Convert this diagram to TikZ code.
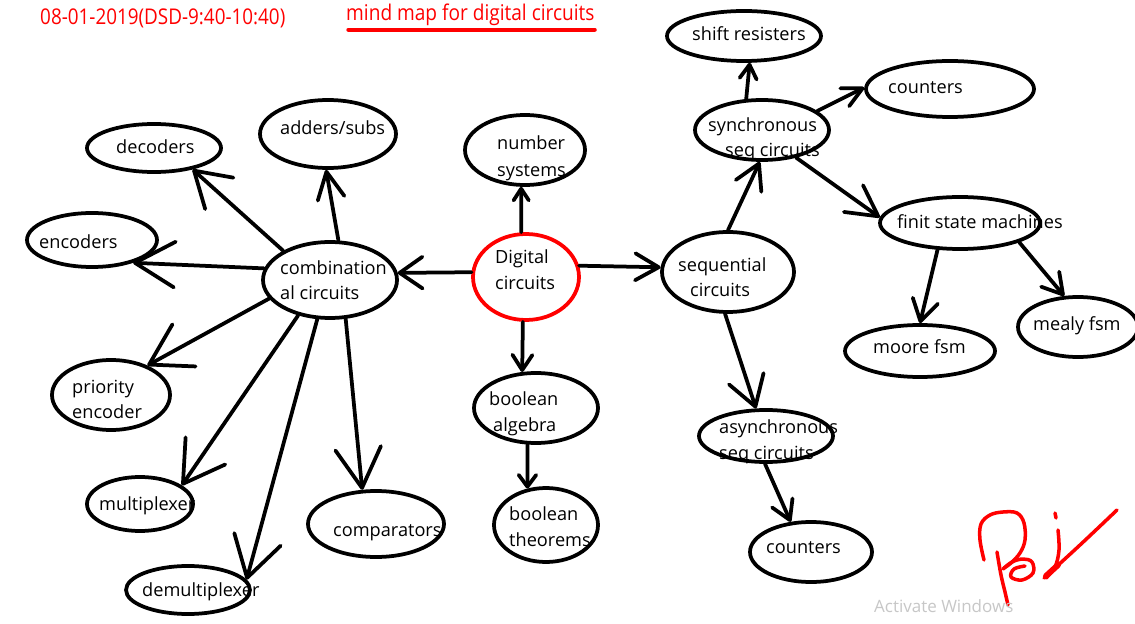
\documentclass[tikz,border=0pt]{standalone}
\usepackage{fontspec}
\setmainfont{Open Sans}
\usetikzlibrary{shapes.geometric,arrows.meta}
\tikzset{
  el/.style 2 args={draw, ellipse, line width=3.2pt, inner sep=0pt, minimum width=#1*0.06cm, minimum height=#2*0.06cm},
  lbl/.style={font=\fontsize{15.5}{18}\selectfont, anchor=west, inner sep=0pt, text height=1.5ex, text depth=0.25ex, yshift=-2.6pt},
  ah/.style 2 args={line width=3.2pt, line cap=round, line join=round, -{Straight Barb[length=#1pt, width=#2pt, round]}},
  sig/.style={red, line width=3pt, line cap=round, line join=round},
}
\begin{document}
\begin{tikzpicture}[x=0.03cm, y=-0.03cm]
\useasboundingbox[fill=white] (0,0) rectangle (1135,624);
% title
\node[anchor=west, inner sep=0pt, text=red] (date) at (40,18) {\scalebox{0.87}[1]{\fontsize{18.5}{22}\selectfont 08-01-2019(DSD-9:40-10:40)}};
\node[anchor=west, inner sep=0pt, text=red] (head) at (346,15) {\scalebox{0.88}[1]{\fontsize{18.5}{22}\selectfont mind map for digital circuits}};
\draw[red, line width=3.4pt, line cap=round] ([xshift=2pt,yshift=-3pt]head.south west) -- ([yshift=-3pt]head.south east);
% ellipses
\node[el={53}{43}, draw=red] (dig) at (526,277) {};
\node[el={60}{35}] (num) at (525,150) {};
\node[el={67}{38}] (comb) at (330,280) {};
\node[el={68}{34}] (add) at (328,134) {};
\node[el={67}{24}] (dec) at (154,148) {};
\node[el={65}{27}] (enc) at (92,240) {};
\node[el={59}{35}] (pri) at (111,395) {};
\node[el={53}{27}] (mux) at (140,504) {};
\node[el={62}{24}] (demux) at (188,590) {};
\node[el={68}{33}] (comp) at (376,524) {};
\node[el={62}{35}] (ba) at (536,408) {};
\node[el={52}{37}] (bt) at (546,525) {};
\node[el={66}{40}] (seq) at (728,272) {};
\node[el={67}{30}] (sync) at (762,130) {};
\node[el={77}{25}] (shift) at (744,36) {};
\node[el={84}{28}] (cntA) at (950,89) {};
\node[el={80}{26}] (fsm) at (960,223) {};
\node[el={75}{26}] (moore) at (920,351) {};
\node[el={60}{30}] (mealy) at (1078,327) {};
\node[el={67}{26}] (async) at (766,436) {};
\node[el={61}{30}] (cntB) at (811,552) {};
% labels
\node[lbl] (tdec) at (116,147) {decoders};
\node[lbl] (tadd) at (280,128) {adders/subs};
\node[lbl] (tenc) at (39,242) {encoders};
\node[lbl] (tcomb1) at (280,268) {combination};
\node[lbl] (tcomb2) at (280,293) {al circuits};
\node[lbl] (tpri1) at (72,387) {priority};
\node[lbl] (tpri2) at (72,412) {encoder};
\node[lbl] (tmux) at (99,504) {multiplexer};
\node[lbl] (tdemux) at (142,590) {demultiplexer};
\node[lbl] (tcomp) at (333,530) {comparators};
\node[lbl] (tnum1) at (497,143) {number};
\node[lbl] (tnum2) at (497,170) {systems};
\node[lbl] (tdig1) at (495,257) {Digital};
\node[lbl] (tdig2) at (495,283) {circuits};
\node[lbl] (tseq1) at (678,265) {sequential};
\node[lbl] (tseq2) at (690,290) {circuits};
\node[lbl] (tsync1) at (708,125) {synchronous};
\node[lbl] (tsync2) at (725,150) {seq circuits};
\node[lbl] (tshift) at (692,34) {shift resisters};
\node[lbl] (tcntA) at (888,87) {counters};
\node[lbl] (tfsm) at (897,222) {finit state machines};
\node[lbl] (tmoore) at (873,347) {moore fsm};
\node[lbl] (tmealy) at (1033,324) {mealy fsm};
\node[lbl] (tba1) at (489,399) {boolean};
\node[lbl] (tba2) at (493,425) {algebra};
\node[lbl] (tbt1) at (509,514) {boolean};
\node[lbl] (tbt2) at (509,540) {theorems};
\node[lbl] (tas1) at (719,427) {asynchronous};
\node[lbl] (tas2) at (719,453) {seq circuits};
\node[lbl] (tcntB) at (766,547) {counters};
% connectors
\draw[ah={10}{13}] (dig.96) -- (num.264);
\draw[ah={19.5}{27}] (dig.175) -- (comb.6);
\draw[ah={20}{23}] (dig.12) -- (seq.176);
\draw[ah={13}{17}] (dig.266) -- (ba.111);
\draw[ah={10}{15}] (ba.257) -- (bt.117);
\draw[ah={23}{23}] (comb.78) -- (add.267);
\draw[ah={29}{36}] (comb.148) -- (dec.331);
\draw[ah={34}{39}] (comb.170) -- (enc.331);
\draw[ah={34}{41}] (comb.197) -- (pri.39);
\draw[ah={34}{41}] (comb.228) -- (mux.24);
\draw[ah={34}{41}] (comb.252) -- (demux.10);
\draw[ah={34}{39}] (comb.292) -- (comp.112);
\draw[ah={21}{24}] (seq.90) -- (sync.266);
\draw[ah={12}{14.5}] (sync.117) -- (shift.282);
\draw[ah={17}{17}] (sync.19) -- (cntA.179);
\draw[ah={26}{28}] (sync.321) -- (fsm.176);
\draw[ah={18}{22}] (fsm.230) -- (moore.90);
\draw[ah={17}{20}] (fsm.342) -- (mealy.114);
\draw[ah={25}{31}] (seq.266) -- (async.110);
\draw[ah={16}{19}] (async.268) -- (cntB.124);
% signature
\draw[sig] plot[smooth, tension=0.6] coordinates {(984,560) (980,540) (981,524) (990,515) (1003,512) (1017,513) (1024,523) (1025,540) (1020,553) (1011,563) (1004,568)};
\draw[sig] plot[smooth, tension=0.6] coordinates {(997,552) (1001,575) (1005,592) (1008,605)};
\draw[sig] plot[smooth, tension=0.6] coordinates {(1003,569) (1012,562) (1023,559) (1032,562) (1033,573) (1022,580) (1011,577) (1014,569) (1025,566)};
\draw[sig] (1055,513) -- (1056,518);
\draw[sig] plot[smooth, tension=0.6] coordinates {(1058,530) (1059,550) (1055,567) (1046,578)};
\draw[sig] plot[smooth, tension=0.6] coordinates {(1044,578) (1080,545) (1117,510)};
\draw[sig, line width=5pt] (1046,576) -- (1058,565);
% watermark
\node[anchor=west, inner sep=0pt, text=black!22, font=\fontsize{14.5}{17}\selectfont] (win) at (874,606) {Activate Windows};
\end{tikzpicture}
\end{document}
